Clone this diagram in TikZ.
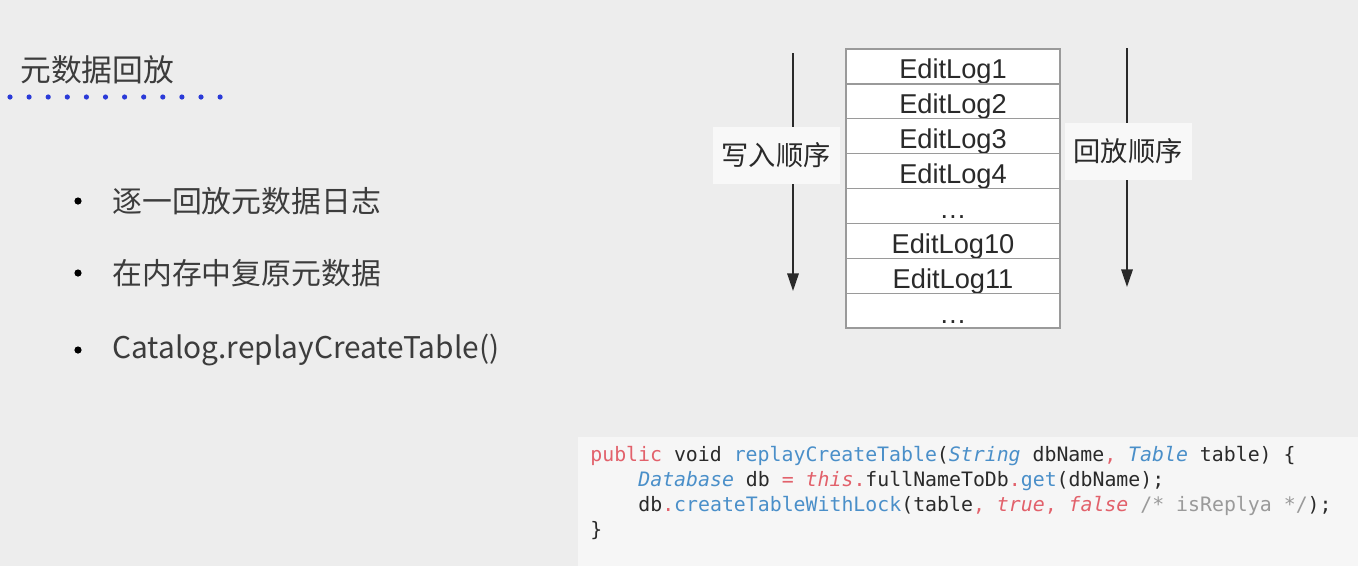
\documentclass[tikz,border=0pt]{standalone}
\usepackage{fontspec}
\setmainfont{Liberation Sans}
\newfontfamily\cjk{Noto Sans CJK SC}
\newfontfamily\codefont{DejaVu Sans Mono}
\usetikzlibrary{arrows.meta}
\usetikzlibrary{positioning}
\pgfdeclarelayer{bglayer}
\pgfdeclarelayer{edgelayer}
\pgfdeclarelayer{nodelayer}
\pgfsetlayers{bglayer,edgelayer,nodelayer,main}
\definecolor{slidebg}{HTML}{EDEDED}
\definecolor{codebg}{HTML}{F6F6F6}
\definecolor{textgray}{HTML}{3C3C3C}
\definecolor{dotblue}{HTML}{2A3AD8}
\definecolor{cellline}{HTML}{9A9A9A}
\definecolor{codered}{HTML}{E2616B}
\definecolor{codeblue}{HTML}{4A8FC9}
\definecolor{codedark}{HTML}{2A2A2A}
\definecolor{codegray}{HTML}{9A9A9A}
\tikzstyle{none}=[inner sep=0pt]
\tikzstyle{title}=[inner sep=0pt, anchor=west, text=textgray, font=\fontsize{17.5}{20}\cjk]
\tikzstyle{item}=[inner sep=0pt, anchor=west, text=textgray, font=\fontsize{17}{20}\cjk]
\tikzstyle{logcell}=[draw=cellline, fill=white, line width=0.8pt, minimum width=4.28cm, minimum height=0.698cm, inner sep=0pt, text height=15pt, text depth=1pt, text=codedark, font=\fontsize{15.5}{18}\selectfont]
\tikzstyle{orderlabel}=[fill=white!60!slidebg, minimum width=2.54cm, minimum height=1.14cm, inner sep=0pt, text=codedark, font=\fontsize{15.5}{18}\cjk]
\tikzstyle{orderarrow}=[line width=1pt, codedark, -{Triangle[length=10pt,width=6.5pt]}]
\tikzstyle{codeline}=[inner sep=0pt, anchor=base west, text=codedark, font=\fontsize{11.3}{13}\codefont]
\newcommand{\codekw}[1]{\textcolor{codered}{#1}}
\newcommand{\codeit}[1]{\textcolor{codered}{\itshape #1}}
\newcommand{\codety}[1]{\textcolor{codeblue}{\itshape #1}}
\newcommand{\codefn}[1]{\textcolor{codeblue}{#1}}
\newcommand{\codecm}[1]{\textcolor{codegray}{#1}}
\begin{document}
\begin{tikzpicture}[x=0.02cm, y=-0.02cm]
	\begin{pgfonlayer}{bglayer}
		\fill [slidebg] (0,0) rectangle (1358,566);
		\fill [codebg] (578,437) rectangle (1358,566);
		\useasboundingbox (0,0) rectangle (1358,566);
	\end{pgfonlayer}
	\begin{pgfonlayer}{nodelayer}
		% title and bullets
		\node [style=title] (title) at (20, 70) {元数据回放};
		\foreach \i in {0,...,11}
			\fill [dotblue] (10+19.1*\i, 97) circle (2.6);
		\node [style=item] (item1) at (112, 201) {逐一回放元数据日志};
		\node [style=item] (item2) at (112, 273) {在内存中复原元数据};
		\node [style=item] (item3) at (112, 350) {Catalog.replayCreateTable()};
		\foreach \y in {201, 273, 350}
			\fill [black] (78, \y) circle (3.6);
		% edit log table
		\foreach \lbl [count=\i from 0] in {EditLog1, EditLog2, EditLog3, EditLog4, \dots, EditLog10, EditLog11, \dots}
			\node [style=logcell] (log\i) at (953, 66.4+34.9*\i) {\lbl};
		\node [style=orderlabel] (writeorder) at (776, 155) {写入顺序};
		\node [style=orderlabel] (replayorder) at (1128, 151) {回放顺序};
		% code
		\node [style=codeline] (code1) at (590, 461) {\codekw{public} void \codefn{replayCreateTable}(\codety{String} dbName\codekw{,} \codety{Table} table) \{};
		\node [style=codeline] (code2) at (638, 486) {\codety{Database} db \codekw{=} \codeit{this}\codekw{.}fullNameToDb\codekw{.}\codefn{get}(dbName);};
		\node [style=codeline] (code3) at (638, 511) {db\codekw{.}\codefn{createTableWithLock}(table\codekw{,} \codeit{true}\codekw{,} \codeit{false} \codecm{/* isReplya */});};
		\node [style=codeline] (code4) at (590, 536) {\}};
	\end{pgfonlayer}
	\begin{pgfonlayer}{edgelayer}
		\coordinate (writetop) at (793, 53);
		\coordinate (writeend) at (793, 291);
		\coordinate (replaytop) at (1127, 48);
		\coordinate (replayend) at (1127, 287);
		\draw [style=orderarrow] (writetop) to (writeend);
		\draw [style=orderarrow] (replaytop) to (replayend);
	\end{pgfonlayer}
\end{tikzpicture}
\end{document}
